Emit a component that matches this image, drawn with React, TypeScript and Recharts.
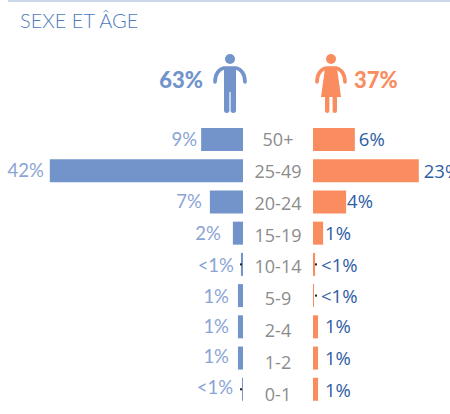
import React from "react";
import { BarChart, Bar, XAxis, YAxis, LabelList } from "recharts";

const categories = ["50+", "25-49", "20-24", "15-19", "10-14", "5-9", "2-4", "1-2", "0-1"];
const maleValues = [9.1, 42, 7.2, 2.2, 0.45, 1.1, 1.1, 1.1, 0.22];
const femaleValues = [9.1, 23, 7.2, 2.2, 0.45, 0.22, 1.1, 1.1, 1.1];
const maleLabels = ["9%", "42%", "7%", "2%", "<1%", "1%", "1%", "1%", "<1%"];
const femaleLabels = ["6%", "23%", "4%", "1%", "<1%", "<1%", "1%", "1%", "1%"];
const maleTotal = "63%";
const femaleTotal = "37%";
const title = "SEXE ET ÂGE";

const rows = categories.map((c, i) => ({ c, male: maleValues[i], female: femaleValues[i] }));

const PX_PER_UNIT = 4.6;
const BLUE = "#7294CB";
const ORANGE = "#F98D5F";
const FONT_L = "Lato, sans-serif";
const FONT_R = "'Open Sans', sans-serif";

// label styling tables (gap from the bar end, vertical nudge)
const maleGap = [4, 6, 8, 12, 7, 9, 9, 9, 9];
const femaleGap = [4, 5, 1, 2, 6, 7, 7, 7, 7];
const maleDy = [0, 0, 0, 0, 1, 1, 0, -2, -2];
const femaleDy = [0, 1, 0, 0, 1, 1, 0, 0, 1];
const maleLeader = [false, false, false, false, true, false, false, false, true];
const femaleLeader = [false, false, false, false, true, true, false, false, false];

const MaleLabel = (p: any) => {
  const i = p.index;
  const left = Math.min(p.x, p.x + p.width);
  const cy = p.y + p.height / 2;
  return (
    <g>
      {maleLeader[i] && <rect x={240} y={cy - 1} width={2} height={2} fill="#222" />}
      <text x={left - maleGap[i]} y={cy + maleDy[i]} dy="0.35em" textAnchor="end" fontFamily={FONT_L} fontSize={18.5} fill="#8AA4D5">
        {maleLabels[i]}
      </text>
    </g>
  );
};

const FemaleLabel = (p: any) => {
  const i = p.index;
  const right = Math.max(p.x, p.x + p.width);
  const cy = p.y + p.height / 2;
  return (
    <g>
      {femaleLeader[i] && <rect x={72} y={cy - 1} width={2} height={2} fill="#222" />}
      <text x={right + femaleGap[i]} y={cy + femaleDy[i]} dy="0.35em" textAnchor="start" fontFamily={FONT_R} fontSize={18.5} fill="#2F5DA5">
        {femaleLabels[i]}
      </text>
    </g>
  );
};

const CategoryTick = (p: any) => (
  <text x={35} y={p.y + p.index * 0.65} dy="0.35em" textAnchor="middle" fontFamily={FONT_R} fontSize={18} fill="#8C8C8C">
    {p.payload.value}
  </text>
);

const Man = () => (
  <svg style={{ position: "absolute", left: 212, top: 50 }} width={36} height={66} viewBox="0 0 36 66">
    <circle cx={18} cy={9} r={5} fill={BLUE} />
    <path d="M3 32 C3 24 7 19 12 18 H24 C29 19 33 24 33 32" fill="none" stroke={BLUE} strokeWidth={3.6} strokeLinecap="round" />
    <rect x={12} y={18} width={12} height={24} fill={BLUE} />
    <rect x={12} y={38} width={5.4} height={25} rx={2.7} fill={BLUE} />
    <rect x={18.6} y={38} width={5.4} height={25} rx={2.7} fill={BLUE} />
  </svg>
);

const Woman = () => (
  <svg style={{ position: "absolute", left: 313, top: 50 }} width={36} height={66} viewBox="0 0 36 66">
    <circle cx={18} cy={9} r={5} fill={ORANGE} />
    <path d="M4 32 C4 24 8 19 13 18 H23 C28 19 32 24 32 32" fill="none" stroke={ORANGE} strokeWidth={3.6} strokeLinecap="round" />
    <path d="M12 18 H24 L28 47 H8 Z" fill={ORANGE} />
    <rect x={12} y={45} width={4.4} height={18} rx={2.2} fill={ORANGE} />
    <rect x={19.6} y={45} width={4.4} height={18} rx={2.2} fill={ORANGE} />
  </svg>
);

export default function App() {
  return (
    <div style={{ position: "absolute", left: 0, top: 0, width: 450, height: 414, overflow: "hidden", background: "#fff" }}>
      <div style={{ position: "absolute", left: 8, top: 0, width: 442, height: 2, background: "#CBD8EC" }} />
      <div style={{ position: "absolute", left: 20, top: 8, fontFamily: FONT_L, fontWeight: 300, fontSize: 20, color: "#4F7ABD", whiteSpace: "nowrap" }}>
        {title}
      </div>
      <div style={{ position: "absolute", right: 450 - 203, top: 66, fontFamily: FONT_L, fontWeight: 900, fontSize: 22, color: BLUE }}>{maleTotal}</div>
      <div style={{ position: "absolute", left: 354, top: 66, fontFamily: FONT_L, fontWeight: 900, fontSize: 22, color: ORANGE }}>{femaleTotal}</div>
      <Man />
      <Woman />
      <div style={{ position: "absolute", left: 0, top: 124 }}>
        <BarChart width={243} height={281} data={rows} layout="vertical" margin={{ top: 0, right: 0, bottom: 0, left: 0 }} barCategoryGap={0}>
          <XAxis type="number" hide domain={[0, 243 / PX_PER_UNIT]} reversed />
          <YAxis type="category" dataKey="c" hide />
          <Bar dataKey="male" fill={BLUE} barSize={23} isAnimationActive={false}>
            <LabelList dataKey="male" content={MaleLabel} />
          </Bar>
        </BarChart>
      </div>
      <div style={{ position: "absolute", left: 243, top: 124 }}>
        <BarChart width={207} height={281} data={rows} layout="vertical" margin={{ top: 0, right: 0, bottom: 0, left: 0 }} barCategoryGap={0}>
          <XAxis type="number" hide domain={[0, 137 / PX_PER_UNIT]} />
          <YAxis type="category" dataKey="c" width={70} axisLine={false} tickLine={false} interval={0} tick={CategoryTick} />
          <Bar dataKey="female" fill={ORANGE} barSize={23} isAnimationActive={false}>
            <LabelList dataKey="female" content={FemaleLabel} />
          </Bar>
        </BarChart>
      </div>
    </div>
  );
}
